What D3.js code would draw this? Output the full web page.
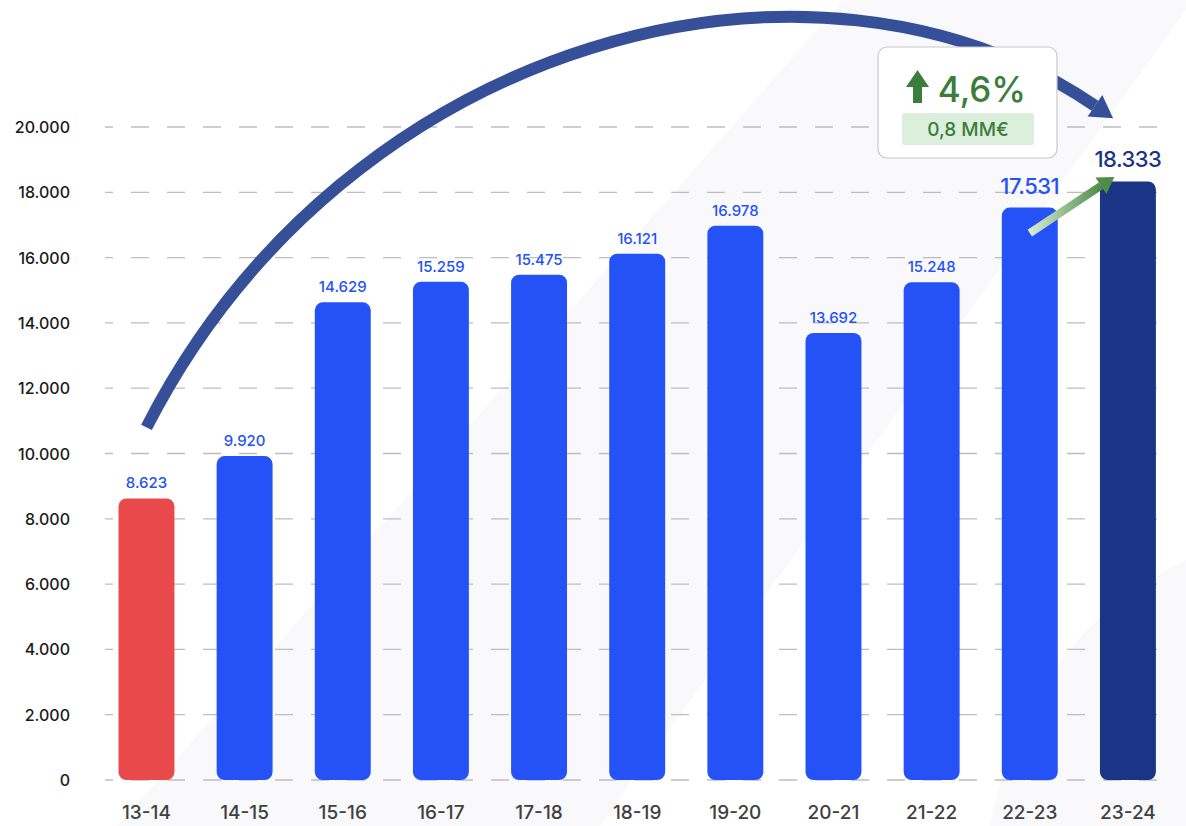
<!DOCTYPE html>
<html>
<head>
<meta charset="utf-8">
<script src="https://cdn.jsdelivr.net/npm/d3@7"></script>
<style>
  html, body { margin: 0; padding: 0; background: #fff; }
  svg { display: block; font-family: Inter, "Open Sans", sans-serif; }
</style>
</head>
<body>
<div id="chart"></div>
<script>
// ---- data ----
var SEASONS = ['13-14', '14-15', '15-16', '16-17', '17-18', '18-19', '19-20', '20-21', '21-22', '22-23', '23-24'];
var VALUES = [8623, 9920, 14629, 15259, 15475, 16121, 16978, 13692, 15248, 17531, 18333];
var Y_TICKS = [0, 2000, 4000, 6000, 8000, 10000, 12000, 14000, 16000, 18000, 20000];
var GROWTH_PCT = '4,6%';
var GROWTH_ABS = '0,8 MM€';

var W = 1186, H = 826;
var BLUE = '#2552F7', RED = '#E84A4B', NAVY = '#1B3586', ARC = '#354F98', GREEN = '#3B7D3A';

var es = d3.formatLocale({ decimal: ',', thousands: '.', grouping: [3], currency: ['', '€'] });
var fmt = es.format(',d');

var svg = d3.select('#chart').append('svg')
  .attr('width', W).attr('height', H);

var defs = svg.append('defs');
var grad = defs.append('linearGradient').attr('id', 'greenGrad')
  .attr('x1', '0%').attr('y1', '0%').attr('x2', '100%').attr('y2', '0%');
grad.append('stop').attr('offset', '0%').attr('stop-color', '#d8ecd5');
grad.append('stop').attr('offset', '100%').attr('stop-color', '#4e8c48');

// faint watermark shapes
svg.append('path')
  .attr('d', 'M118,826 L843,0 L1193,0 L600,826 Z')
  .attr('fill', '#f9f9fc');
svg.append('path')
  .attr('d', 'M1186,560 C1100,600 1020,680 990,826 L1186,826 Z')
  .attr('fill', '#f9f9fc');

// scales
var x = d3.scaleBand().domain(SEASONS)
  .range([97.4, 1177]).paddingInner(0.43).paddingOuter(0.215);
var y = d3.scaleLinear().domain([0, 20000]).range([780, 127]);
var bw = x.bandwidth();

// grid
svg.append('g').selectAll('line')
  .data(Y_TICKS)
  .join('line')
  .attr('x1', 105).attr('x2', 1157)
  .attr('y1', function(d) { return y(d); })
  .attr('y2', function(d) { return y(d); })
  .attr('stroke', '#bdbdbd')
  .attr('stroke-width', 1.3)
  .attr('stroke-dasharray', '18,18')
  .attr('stroke-dashoffset', 10);

// y axis labels
svg.append('g').selectAll('text')
  .data(Y_TICKS)
  .join('text')
  .attr('x', 70)
  .attr('y', function(d) { return y(d) + 6; })
  .attr('text-anchor', 'end')
  .attr('font-size', 16)
  .attr('font-weight', 500)
  .attr('fill', '#1a1a1a')
  .text(function(d) { return fmt(d); });

// bars
function barColor(i) {
  if (i === 0) return RED;
  if (i === SEASONS.length - 1) return NAVY;
  return BLUE;
}
svg.append('g').selectAll('rect')
  .data(VALUES)
  .join('rect')
  .attr('x', function(d, i) { return x(SEASONS[i]); })
  .attr('y', function(d) { return y(d); })
  .attr('width', bw)
  .attr('height', function(d) { return y(0) - y(d); })
  .attr('rx', 8)
  .attr('fill', function(d, i) { return barColor(i); });

// x labels
svg.append('g').selectAll('text')
  .data(SEASONS)
  .join('text')
  .attr('x', function(d) { return x(d) + bw / 2; })
  .attr('y', 819)
  .attr('text-anchor', 'middle')
  .attr('font-size', 19)
  .attr('font-weight', 500)
  .attr('fill', '#404040')
  .text(function(d) { return d; });

// value labels
var last = VALUES.length - 1;
svg.append('g').selectAll('text')
  .data(VALUES)
  .join('text')
  .attr('x', function(d, i) { return x(SEASONS[i]) + bw / 2; })
  .attr('y', function(d, i) { return y(d) - (i >= last - 1 ? 14 : 10); })
  .attr('text-anchor', 'middle')
  .attr('font-size', function(d, i) { return i >= last - 1 ? 22 : 15; })
  .attr('font-weight', 500)
  .attr('letter-spacing', function(d, i) { return i >= last - 1 ? -0.5 : 0; })
  .attr('fill', function(d, i) { return i === last ? NAVY : BLUE; })
  .text(function(d) { return fmt(d); });

// big arc from first season to last
var cx0 = x(SEASONS[0]) + bw / 2;
var p0 = [cx0, y(10800)];
var p3 = [x(SEASONS[last]) - 5, y(20650)];
var p1 = [cx0 + 200, y(22800)];
var p2 = [cx0 + 670, y(26500)];
var arcPath = d3.path();
arcPath.moveTo(p0[0], p0[1]);
arcPath.bezierCurveTo(p1[0], p1[1], p2[0], p2[1], p3[0], p3[1]);
svg.append('path')
  .attr('d', arcPath.toString())
  .attr('fill', 'none')
  .attr('stroke', ARC)
  .attr('stroke-width', 12);

function arrowHead(base, from, len, half) {
  var dx = base[0] - from[0], dy = base[1] - from[1];
  var l = Math.sqrt(dx * dx + dy * dy);
  var ux = dx / l, uy = dy / l;
  return [
    [base[0] - uy * half, base[1] + ux * half],
    [base[0] + ux * len, base[1] + uy * len],
    [base[0] + uy * half, base[1] - ux * half]
  ];
}
svg.append('polygon')
  .attr('points', arrowHead(p3, p2, 22, 13).join(' '))
  .attr('fill', ARC);

// small green growth arrow between last two bars
var g0 = [x(SEASONS[last - 1]) + bw / 2, y(16750)];
var g1 = [x(SEASONS[last]) + 1, y(18200)];
svg.append('line')
  .attr('x1', g0[0]).attr('y1', g0[1])
  .attr('x2', g1[0]).attr('y2', g1[1])
  .attr('stroke', 'url(#greenGrad)')
  .attr('stroke-width', 8);
svg.append('polygon')
  .attr('points', arrowHead(g1, g0, 16, 10).join(' '))
  .attr('fill', '#4e8c48');

// growth callout
var box = svg.append('g').attr('transform', 'translate(878,47)');
box.append('rect')
  .attr('width', 179).attr('height', 111).attr('rx', 9)
  .attr('fill', '#fff')
  .attr('stroke', '#c8c8c8').attr('stroke-width', 1.2);
box.append('rect')
  .attr('x', 35).attr('y', 38).attr('width', 9).attr('height', 18)
  .attr('fill', GREEN);
box.append('polygon')
  .attr('points', '28,40 39.5,23 51,40')
  .attr('fill', GREEN);
box.append('text')
  .attr('x', 104).attr('y', 55)
  .attr('text-anchor', 'middle')
  .attr('font-size', 35)
  .attr('font-weight', 500)
  .attr('fill', GREEN)
  .text(GROWTH_PCT);
box.append('rect')
  .attr('x', 24).attr('y', 66).attr('width', 132).attr('height', 32).attr('rx', 3)
  .attr('fill', '#dcefdd');
box.append('text')
  .attr('x', 90).attr('y', 89)
  .attr('text-anchor', 'middle')
  .attr('font-size', 19)
  .attr('font-weight', 500)
  .attr('fill', GREEN)
  .text(GROWTH_ABS);
</script>
</body>
</html>
